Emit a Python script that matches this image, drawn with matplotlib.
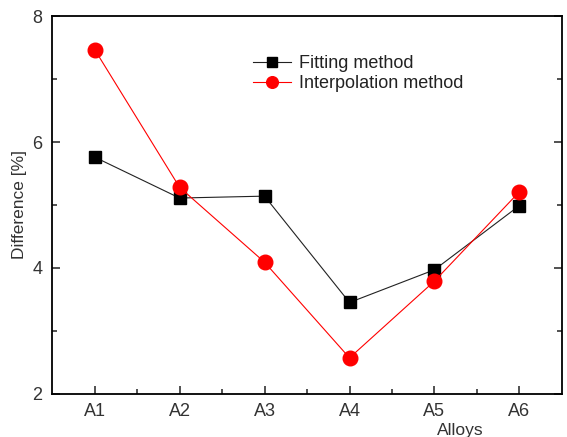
import matplotlib.pyplot as plt
from matplotlib.ticker import MultipleLocator

plt.rcParams['font.family'] = ['Liberation Sans', 'DejaVu Sans']

alloys = ["A1", "A2", "A3", "A4", "A5", "A6"]
fitting = [5.76, 5.11, 5.14, 3.45, 3.97, 4.99]
interpolation = [7.47, 5.28, 4.09, 2.57, 3.79, 5.21]

fig = plt.figure(figsize=(5.67, 4.37), dpi=100)
ax = fig.add_axes([0.092, 0.099, 0.899, 0.864])

x = range(len(alloys))
ax.plot(x, fitting, color="#222222", lw=0.8, marker="s", ms=9,
        mfc="black", mec="black", label="Fitting method")
ax.plot(x, interpolation, color="red", lw=0.8, marker="o", ms=10.5,
        label="Interpolation method")

ax.set_xlim(-0.5, 5.5)
ax.set_ylim(2, 8)
ax.set_xticks(list(x))
ax.set_xticklabels(alloys)
ax.set_xticks([i + 0.5 for i in range(5)], minor=True)
ax.yaxis.set_major_locator(MultipleLocator(2))
ax.yaxis.set_minor_locator(MultipleLocator(1))

ax.tick_params(which="both", direction="in", right=True, top=False,
               labelsize=13, width=1.2, colors="#333333", labelcolor="#333333")
ax.tick_params(which="major", length=6, pad=7)
ax.tick_params(which="minor", length=3.5)
for s in ax.spines.values():
    s.set_linewidth(1.3)

ax.set_ylabel("Difference [%]", fontsize=12.5, color="#333333", labelpad=4)
ax.text(0.80, -0.078, "Alloys", transform=ax.transAxes, fontsize=12.5,
        color="#333333", ha="center", va="top")

ax.legend(loc="upper left", bbox_to_anchor=(0.38, 0.915), frameon=False,
          fontsize=13, handlelength=2.1, handletextpad=0.45, markerscale=0.8,
          labelspacing=0.15, borderaxespad=0, labelcolor="#222222")

fig.savefig("out.png", dpi=100)
